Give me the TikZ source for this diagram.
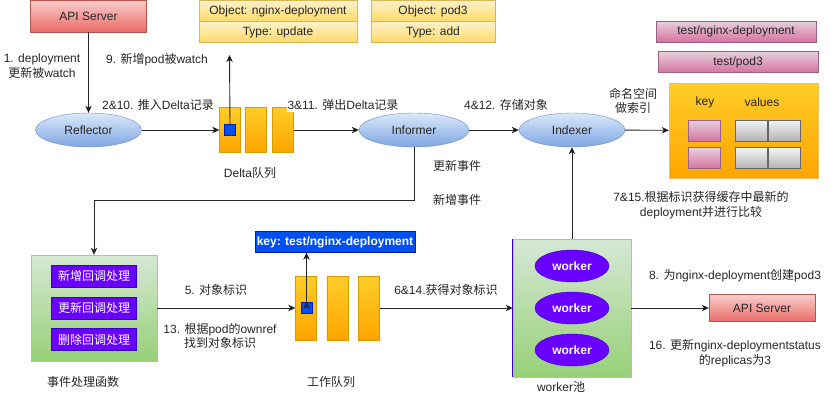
\documentclass[tikz,border=0pt]{standalone}
\usepackage{fontspec}
\setmainfont{Liberation Sans}
\newfontfamily\zhfont{Noto Sans CJK SC}
\newcommand{\zh}[1]{{\zhfont #1}}
\usetikzlibrary{positioning,shapes.geometric,arrows.meta}

\definecolor{redtop}{HTML}{F8CECC}
\definecolor{redbot}{HTML}{EA6B66}
\definecolor{redline}{HTML}{B85450}
\definecolor{yeltop}{HTML}{FFF2CC}
\definecolor{yelbot}{HTML}{FFD966}
\definecolor{yelline}{HTML}{D6B656}
\definecolor{blutop}{HTML}{DAE8FC}
\definecolor{blubot}{HTML}{7EA6E0}
\definecolor{bluline}{HTML}{6C8EBF}
\definecolor{orgtop}{HTML}{FFCD28}
\definecolor{orgbot}{HTML}{FFA500}
\definecolor{orgline}{HTML}{D79B00}
\definecolor{pinktop}{HTML}{E6D0DE}
\definecolor{pinkbot}{HTML}{D5739D}
\definecolor{pinkline}{HTML}{996185}
\definecolor{graytop}{HTML}{F5F5F5}
\definecolor{graybot}{HTML}{B3B3B3}
\definecolor{grayline}{HTML}{666666}
\definecolor{grntop}{HTML}{D5E8D4}
\definecolor{grnbot}{HTML}{97D077}
\definecolor{grnline}{HTML}{82B366}
\definecolor{violetfill}{HTML}{6A00FF}
\definecolor{violetline}{HTML}{3700CC}
\definecolor{keyblue}{HTML}{0050EF}
\definecolor{keyline}{HTML}{001DBC}

\begin{document}
\begin{tikzpicture}[x=1pt, y=-1pt, font=\fontsize{12}{14.5}\selectfont, text=black!85,
    box/.style={inner sep=0pt},
    api/.style={box, draw=redline, top color=redtop, bottom color=redbot, minimum width=116, minimum height=32},
    objrow/.style={box, draw=yelline, top color=yeltop, bottom color=yelbot, minimum height=21},
    tagbox/.style={box, draw=pinkline, top color=pinktop, bottom color=pinkbot, minimum width=160, minimum height=21},
    oval/.style={box, ellipse, draw=bluline, top color=blutop, bottom color=blubot, minimum width=106, minimum height=34},
    bar/.style={box, draw=orgline, top color=orgtop, bottom color=orgbot, minimum width=21},
    dot/.style={box, draw=keyline, fill=keyblue, minimum size=11},
    cachebox/.style={box, draw=orgline!60, top color=orgtop, bottom color=orgbot, minimum width=149, minimum height=95},
    keycell/.style={box, draw=pinkline, top color=pinktop, bottom color=pinkbot, minimum width=32, minimum height=21},
    valcell/.style={box, draw=grayline, line width=0.8pt, top color=graytop, bottom color=graybot, minimum width=32, minimum height=21},
    pool/.style={box, draw=grnline!70, top color=grntop, bottom color=grnbot},
    btn/.style={box, draw=violetline, fill=violetfill, text=white, minimum width=85, minimum height=22},
    worker/.style={box, ellipse, draw=violetline, fill=violetfill, text=white, font=\fontsize{12}{14.5}\selectfont\bfseries, minimum width=74, minimum height=32},
    keytag/.style={box, draw=keyline, fill=keyblue, text=white, font=\fontsize{12}{14.5}\selectfont\bfseries, minimum width=160, minimum height=21},
    lbl/.style={align=center, inner sep=1pt},
    flow/.style={draw=black!85, line width=0.9pt, -{Stealth[length=7pt,width=6.5pt,inset=2pt]}}]
    \path[use as bounding box, fill=white] (0,0) rectangle (831,415);

    % sources and records
    \node[api] (apitop) at (88.5,16) {API Server};
    \node[objrow, minimum width=158] (obja1) at (278,11) {Object: nginx-deployment};
    \node[objrow, minimum width=158] (obja2) at (278,32) {Type: update};
    \node[objrow, minimum width=124] (objb1) at (433,11) {Object: pod3};
    \node[objrow, minimum width=124] (objb2) at (433,32) {Type: add};
    \node[tagbox] (tagdep) at (736,31.5) {test/nginx-deployment};
    \node[tagbox] (tagpod) at (738,62) {test/pod3};

    % informer chain
    \node[oval] (reflector) at (88.5,130) {Reflector};
    \node[oval, minimum width=110] (informer) at (414,130) {Informer};
    \node[oval] (indexer) at (572,130) {Indexer};

    % delta queue
    \node[bar, minimum height=45] (dbar1) at (230,130) {};
    \node[bar, minimum height=45, right=4pt of dbar1] (dbar2) {};
    \node[bar, minimum height=45, right=6pt of dbar2] (dbar3) {};
    \node[dot] (dsq) at (dbar1) {};
    \coordinate (watchtop) at (229.5,55);
    \node[lbl] (deltaname) at (250,173) {Delta\zh{队列}};

    % cache
    \node[cachebox] (cache) at (743.5,130.5) {};
    \node[lbl] (keyhead) at (705,102) {key};
    \node[lbl] (valhead) at (762,102) {values};
    \node[keycell] (key1) at (704,130.5) {};
    \node[keycell] (key2) at (704,158) {};
    \node[valcell] (val1a) at (751.5,130.5) {};
    \node[valcell, right=0pt of val1a] (val1b) {};
    \node[valcell] (val2a) at (751.5,158) {};
    \node[valcell, right=0pt of val2a] (val2b) {};

    % event handlers
    \node[pool, minimum width=126, minimum height=106] (handler) at (94,308) {};
    \node[btn] (onadd) at (94,276) {\zh{新增回调处理}};
    \node[btn] (onupd) at (94,308) {\zh{更新回调处理}};
    \node[btn] (ondel) at (94,339.5) {\zh{删除回调处理}};
    \node[lbl] (handlername) at (83,382) {\zh{事件处理函数}};

    % work queue
    \node[bar, minimum height=64] (wbar1) at (306,308) {};
    \node[bar, minimum height=64, right=10pt of wbar1] (wbar2) {};
    \node[bar, minimum height=64, right=10pt of wbar2] (wbar3) {};
    \node[dot] (wsq) at (306.5,307.5) {};
    \node[keytag] (keybox) at (335,242) {key: test/nginx-deployment};
    \node[lbl] (wqname) at (331,382) {\zh{工作队列}};

    % workers
    \node[pool, minimum width=118, minimum height=138] (workers) at (572,308) {};
    \draw[violetline, line width=1pt] (workers.north west) -- (workers.south west);
    \node[worker] (w1) at (572,266) {worker};
    \node[worker] (w2) at (572,308) {worker};
    \node[worker] (w3) at (572,350) {worker};
    \node[lbl] (poolname) at (561,387) {worker\zh{池}};
    \node[api, minimum width=106, minimum height=27] (apibot) at (762,308) {API Server};

    % connectors
    \coordinate (evtbend) at (414,200);
    \draw[flow] (apitop) edge (reflector)
        (reflector) edge (dbar1)
        (dbar3) edge (informer)
        (informer) edge (indexer)
        (indexer) edge (cache)
        (handler) edge (wbar1)
        (wbar3) edge (workers)
        (workers) edge (apibot)
        (workers) edge (indexer)
        (dsq.north) edge (watchtop)
        (wsq.north) edge (wsq.north |- keybox.south);
    \draw[flow] (informer) -- (evtbend) -| (handler);

    % step labels
    \node[lbl] (l1) at (42,66) {1. deployment\\\zh{更新被}watch};
    \node[lbl] (l9) at (157,60) {9. \zh{新增}pod\zh{被}watch};
    \node[lbl] (l2) at (158,105) {2\&10. \zh{推入}Delta\zh{记录}};
    \node[lbl, fill=white] (l3) at (343,105) {3\&11. \zh{弹出}Delta\zh{记录}};
    \node[lbl] (l4) at (506,105) {4\&12. \zh{存储对象}};
    \node[lbl] (lns) at (633,101) {\zh{命名空间}\\\zh{做索引}};
    \node[lbl] (lupd) at (457,166) {\zh{更新事件}};
    \node[lbl] (ladd) at (457,200) {\zh{新增事件}};
    \node[lbl] (l7) at (701,205) {7\&15.\zh{根据标识获得缓存中最新的}\\deployment\zh{并进行比较}};
    \node[lbl] (l5) at (216,290) {5. \zh{对象标识}};
    \node[lbl] (l13) at (220,336) {13. \zh{根据}pod\zh{的}ownref\\\zh{找到对象标识}};
    \node[lbl] (l6) at (446,290) {6\&14.\zh{获得对象标识}};
    \node[lbl] (l8) at (735,276) {8. \zh{为}nginx-deployment\zh{创建}pod3};
    \node[lbl] (l16) at (735,353) {16. \zh{更新}nginx-deploymentstatus\\\zh{的}replicas\zh{为}3};
\end{tikzpicture}
\end{document}
